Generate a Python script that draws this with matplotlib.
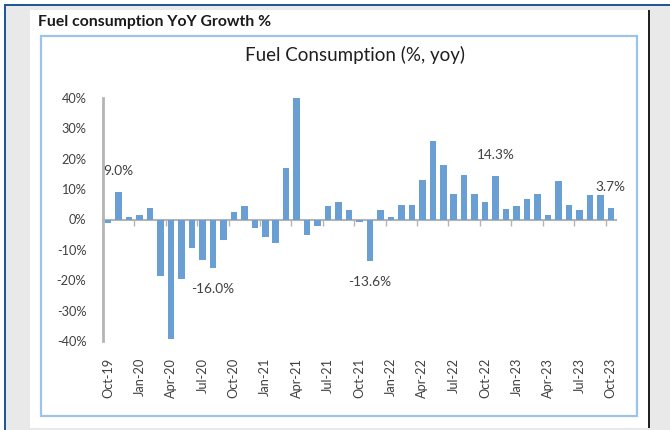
import numpy as np
import matplotlib
matplotlib.use('Agg')
import matplotlib.pyplot as plt
from matplotlib.patches import Rectangle
from matplotlib.ticker import FuncFormatter

plt.rcParams['font.family'] = ['Lato', 'DejaVu Sans']

# monthly categories, Oct-19 .. Oct-23
months = ['Oct-19', 'Nov-19', 'Dec-19',
          'Jan-20', 'Feb-20', 'Mar-20', 'Apr-20', 'May-20', 'Jun-20',
          'Jul-20', 'Aug-20', 'Sep-20', 'Oct-20', 'Nov-20', 'Dec-20',
          'Jan-21', 'Feb-21', 'Mar-21', 'Apr-21', 'May-21', 'Jun-21',
          'Jul-21', 'Aug-21', 'Sep-21', 'Oct-21', 'Nov-21', 'Dec-21',
          'Jan-22', 'Feb-22', 'Mar-22', 'Apr-22', 'May-22', 'Jun-22',
          'Jul-22', 'Aug-22', 'Sep-22', 'Oct-22', 'Nov-22', 'Dec-22',
          'Jan-23', 'Feb-23', 'Mar-23', 'Apr-23', 'May-23', 'Jun-23',
          'Jul-23', 'Aug-23', 'Sep-23', 'Oct-23']

# fuel consumption, % yoy
yoy = [-1.3, 9.0, 0.8,
       1.4, 3.8, -18.6, -39.3, -19.7, -9.3,
       -13.2, -16.0, -6.6, 2.4, 4.4, -2.7,
       -5.7, -7.9, 16.9, 39.9, -5.1, -2.2,
       4.6, 5.7, 3.0, -0.9, -13.6, 3.1,
       0.9, 4.9, 4.7, 13.1, 25.8, 17.9,
       8.5, 14.5, 8.4, 5.7, 14.3, 3.3,
       4.4, 6.8, 8.5, 1.4, 12.7, 4.9,
       3.1, 8.0, 8.0, 3.7]

# bars that carry a data label
labelled = ['Nov-19', 'Aug-20', 'Nov-21', 'Nov-22', 'Oct-23']

y_ticks = [-40, -30, -20, -10, 0, 10, 20, 30, 40]

W, H = 670, 430
fig = plt.figure(figsize=(W / 100, H / 100), dpi=100)

# page frame drawn in pixel coordinates
bg = fig.add_axes([0, 0, 1, 1])
bg.set_xlim(0, W)
bg.set_ylim(H, 0)
bg.axis('off')
bg.add_patch(Rectangle((4, 4), W - 4, H - 4, facecolor='#1f5a96', edgecolor='none'))
bg.add_patch(Rectangle((6, 6), W - 6, H - 6, facecolor='#e9e9e9', edgecolor='none'))
bg.add_patch(Rectangle((30, 10), 618, 418, facecolor='white', edgecolor='none'))
bg.add_patch(Rectangle((648, 10), 1.5, 418, facecolor='#222222', edgecolor='none'))
bg.add_patch(Rectangle((41, 36), 596, 380, facecolor='none', edgecolor='#9dc3e6', linewidth=1.6))
bg.text(38, 22, 'Fuel consumption YoY Growth %', fontsize=11.3, fontweight='bold',
        color='#1a1a1a', va='center', ha='left')
bg.text(355, 55, 'Fuel Consumption (%, yoy)', fontsize=13.5, color='#1f1f1f',
        va='center', ha='center')

ax = fig.add_axes([103 / W, 1 - 341 / H, 513 / W, 243 / H])
ax.patch.set_alpha(0)
x = np.arange(len(months))
ax.bar(x, yoy, width=0.62, color='#6a9fd4', zorder=2)

ax.set_xlim(-0.5, len(months) - 0.5)
ax.set_ylim(-40, 40)

for s in ['top', 'right', 'bottom']:
    ax.spines[s].set_visible(False)
ax.spines['left'].set_color('#b4b4b4')
ax.spines['left'].set_linewidth(2)

ax.set_yticks(y_ticks)
ax.yaxis.set_major_formatter(FuncFormatter(lambda v, p: f'{v:.0f}%'))
ax.tick_params(axis='y', length=0, pad=12, labelsize=9.2, labelcolor='#404040')

ax.set_xticks(x[::3])
ax.set_xticklabels(months[::3], rotation=90)
ax.tick_params(axis='x', length=0, pad=12, labelsize=9.2, labelcolor='#404040')

# category axis line sits on zero
zero_ax = ax.secondary_xaxis(0, transform=ax.transData)
zero_ax.spines['bottom'].set_color('#b4b4b4')
zero_ax.spines['bottom'].set_linewidth(1.5)
zero_ax.set_xticks(np.arange(-0.5, len(months), 3))
zero_ax.tick_params(axis='x', length=4, width=1, color='#b4b4b4', labelbottom=False)

for m in labelled:
    i = months.index(m)
    v = yoy[i]
    off = 15 if v >= 0 else -15
    ax.annotate(f'{v:.1f}%', (i, v), xytext=(0, off), textcoords='offset points',
                ha='center', va='center', fontsize=9.8, color='#404040')

fig.savefig('out.png', dpi=100)
